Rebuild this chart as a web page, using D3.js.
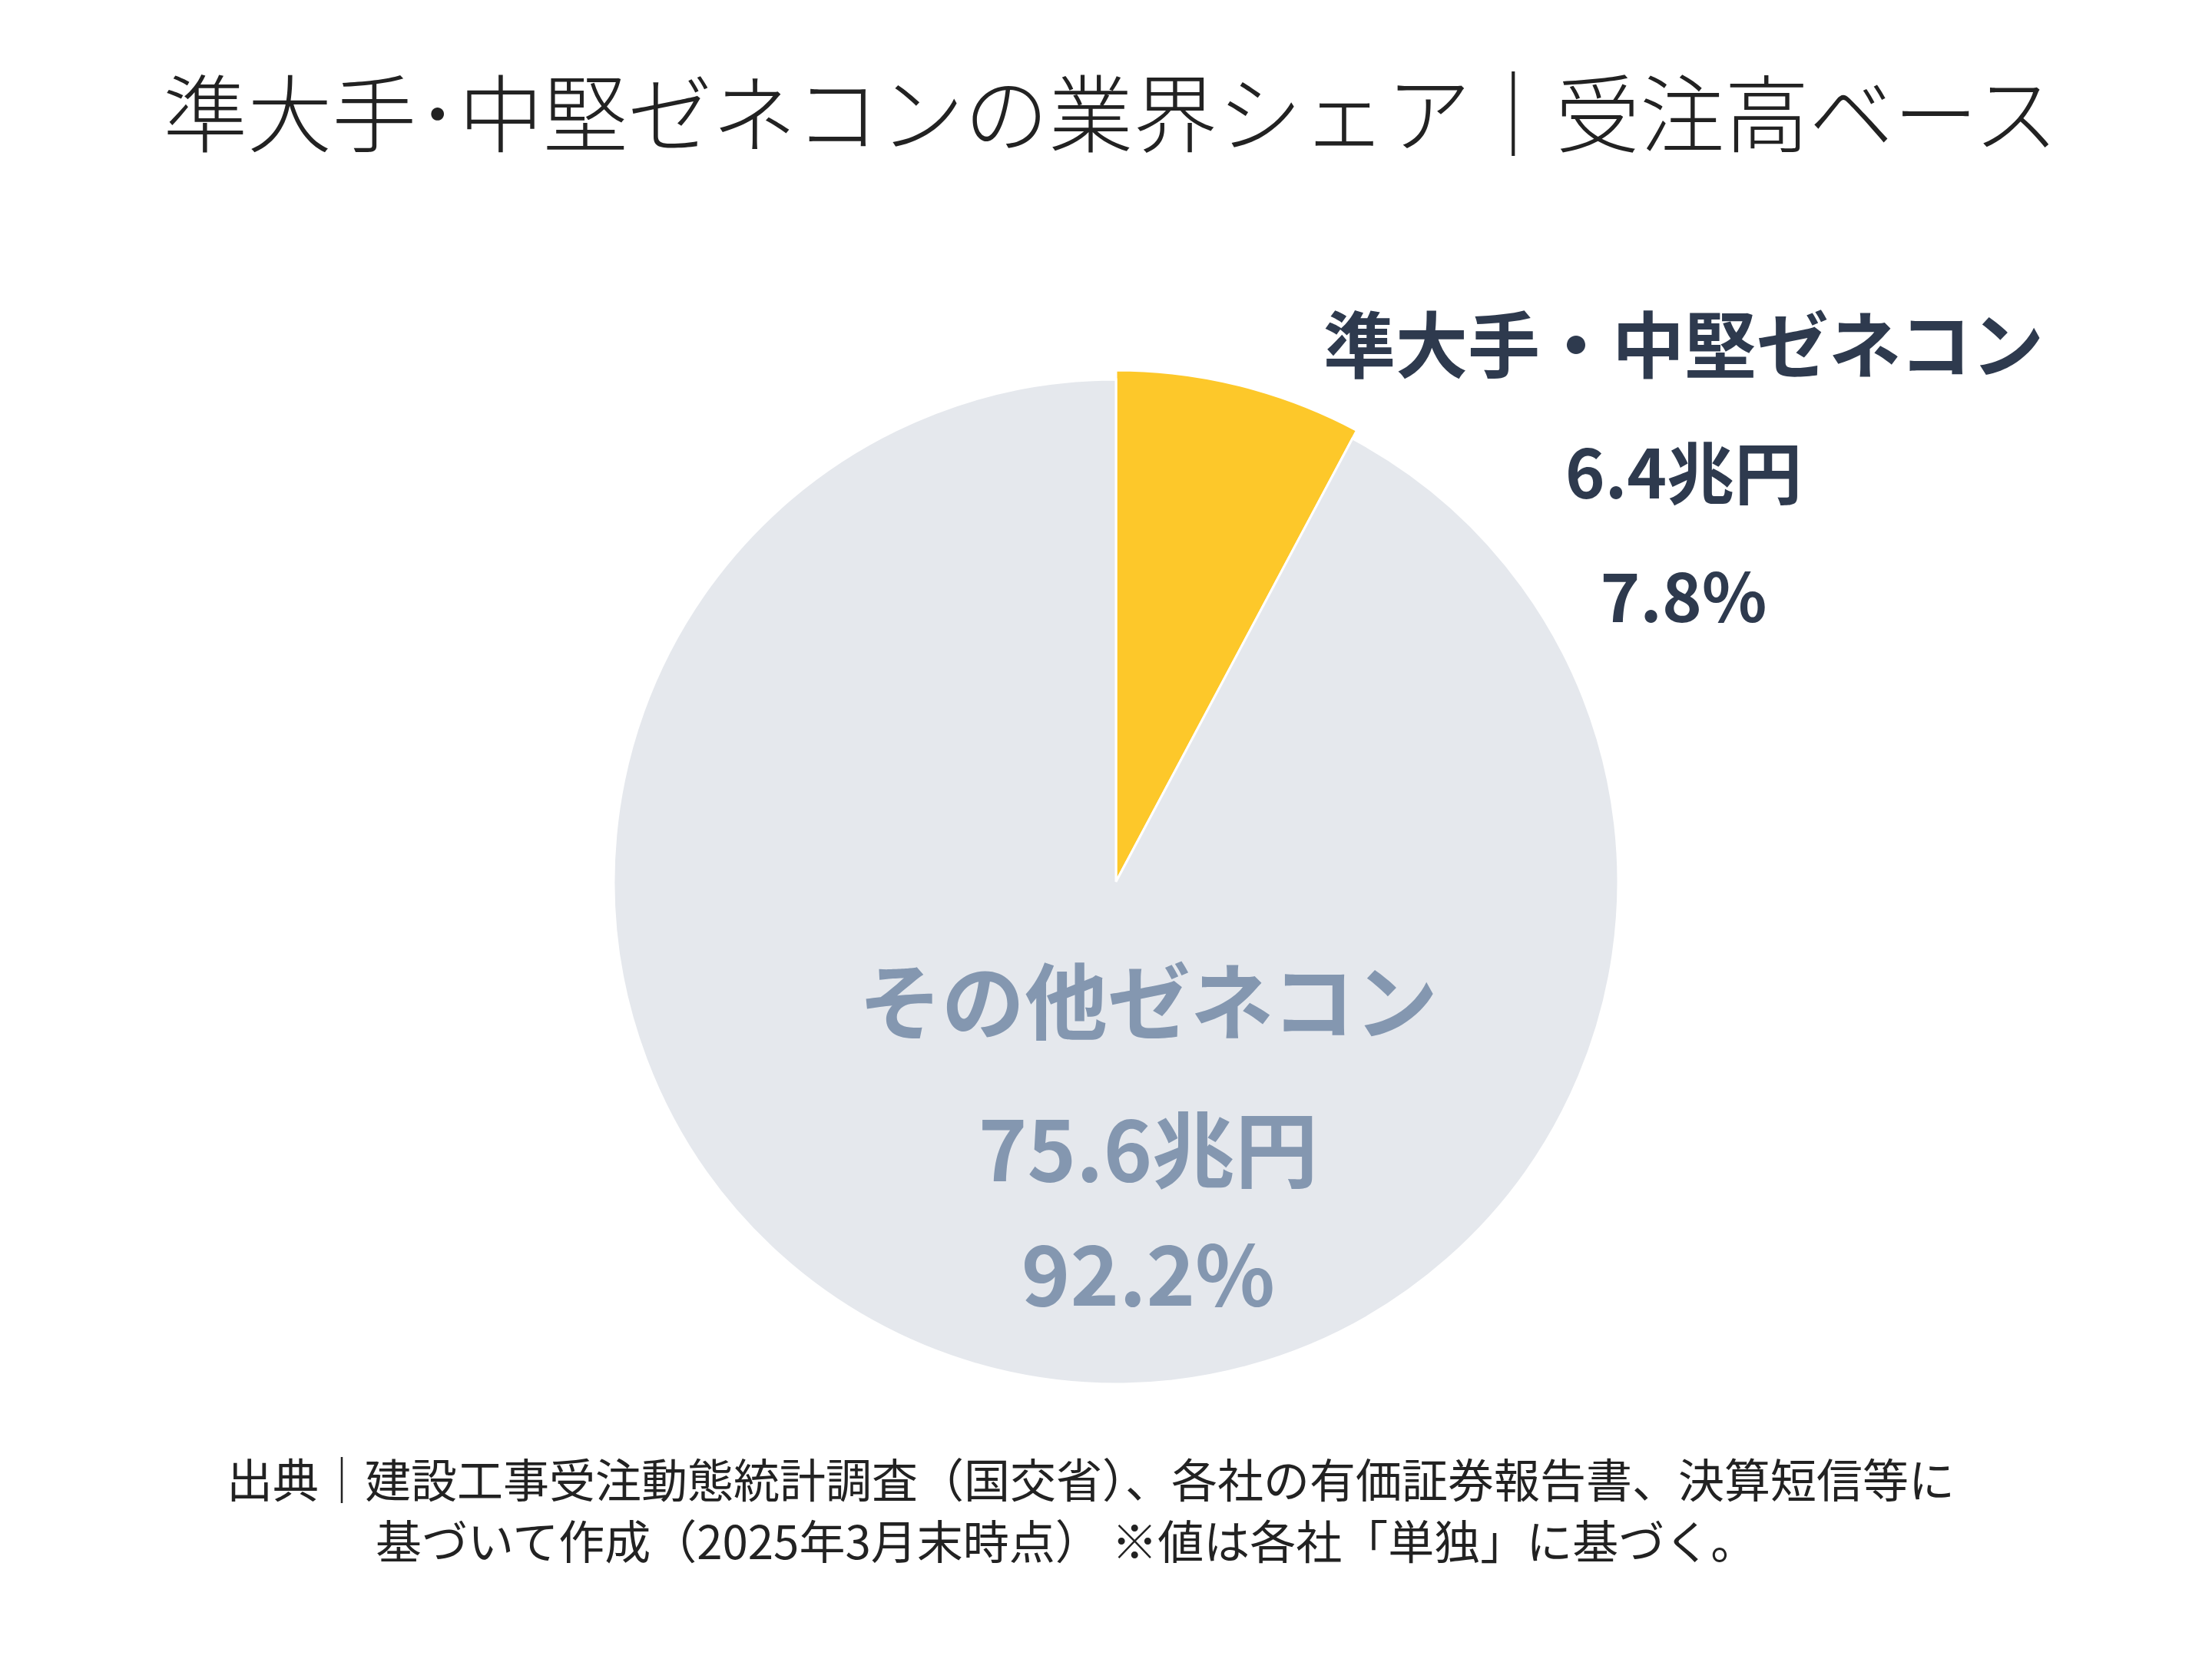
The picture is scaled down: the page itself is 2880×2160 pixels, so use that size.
<!DOCTYPE html>
<html><head><meta charset="utf-8">
<script src="https://cdn.jsdelivr.net/npm/d3@7"></script>
<style>body{margin:0;background:#fff}</style>
</head><body><div id="chart"></div>
<script>
// data
var categories = ["準大手・中堅ゼネコン", "その他ゼネコン"]
var amounts = ["6.4兆円", "75.6兆円"]
var shares = [7.8, 92.2]
var colors = ["#fdc82a", "#e5e8ed"]
var textColors = ["#2e3a4e", "#8497b0"]

var W = 2880, H = 2160
var svg = d3.select("#chart").append("svg").attr("width", W).attr("height", H)
  .style("font-family", "'Noto Sans CJK JP', 'Noto Sans', sans-serif")

svg.append("text").attr("x", 1446).attr("y", 190).attr("text-anchor", "middle")
  .attr("font-size", 110).attr("fill", "#222").attr("font-weight", 300)
  .text("準大手･中堅ゼネコンの業界シェア｜受注高ベース")

var cx = 1453, cy = 1148, r = 654
var pie = d3.pie().sort(null).value(function(d) { return d })
var arcs = pie(shares)
var g = svg.append("g").attr("transform", "translate(" + cx + "," + cy + ")")
g.selectAll("path").data(arcs).enter().append("path")
  .attr("d", function(d, i) { return d3.arc().innerRadius(0).outerRadius(i == 0 ? r + 12 : r)(d) })
  .attr("fill", function(d, i) { return colors[i] })
  .attr("stroke", "#fff").attr("stroke-width", 3)

// labels: x, y per line, font sizes per line
var labelPos = [[2192, [452, 618, 779], [94, 88, 88]], [1495, [1307, 1500, 1662], [108, 108, 108]]]
categories.forEach(function(c, i) {
  var p = labelPos[i]
  var lines = [c, amounts[i], shares[i].toFixed(1) + "%"]
  lines.forEach(function(t, j) {
    svg.append("text").attr("x", p[0]).attr("y", p[1][j]).attr("dy", "0.35em")
      .attr("text-anchor", "middle").attr("font-size", p[2][j]).attr("font-weight", 700)
      .attr("fill", textColors[i]).text(t)
  })
})

svg.append("text").attr("x", 295).attr("y", 1950).attr("font-size", 60).attr("fill", "#222")
  .text("出典｜建設工事受注動態統計調査（国交省）、各社の有価証券報告書、決算短信等に")
svg.append("text").attr("x", 489).attr("y", 2030).attr("font-size", 60).attr("fill", "#222")
  .text("基づいて作成（2025年3月末時点） ※値は各社「単独」に基づく。")
</script></body></html>
